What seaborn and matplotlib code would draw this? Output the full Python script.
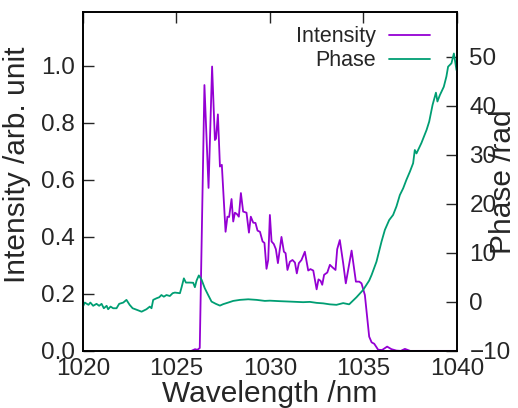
import pandas as pd
import matplotlib
matplotlib.use('Agg')
import matplotlib.pyplot as plt
import seaborn as sns

# Intensity spectrum
wl_int = [1025.8, 1026.0, 1026.1, 1026.15, 1026.25, 1026.5, 1026.72, 1026.91, 1027.06, 1027.12,
          1027.22, 1027.33, 1027.43, 1027.63, 1027.73, 1027.82, 1027.95, 1028.04, 1028.13, 1028.24,
          1028.34, 1028.45, 1028.57, 1028.75, 1028.88, 1028.98, 1029.11, 1029.23, 1029.34, 1029.47,
          1029.61, 1029.71, 1029.82, 1029.91, 1030.0, 1030.09, 1030.21, 1030.32, 1030.43, 1030.62,
          1030.75, 1030.84, 1030.94, 1031.07, 1031.21, 1031.34, 1031.44, 1031.55, 1031.69, 1031.87,
          1032.05, 1032.17, 1032.32, 1032.5, 1032.6, 1032.71, 1032.8, 1032.9, 1033.07, 1033.21,
          1033.35, 1033.51, 1033.6, 1033.74, 1033.92, 1034.06, 1034.28, 1034.37, 1034.6, 1034.78,
          1034.9, 1035.08, 1035.31, 1035.44, 1035.58, 1035.79, 1036.0, 1036.27, 1036.5, 1036.77,
          1037.0, 1037.22, 1037.5, 1038.0, 1039.0, 1040.0]
intensity = [0.0, 0.006, 0.004, 0.005, 0.01, 0.933, 0.572, 0.998, 0.74, 0.745,
             0.83, 0.647, 0.653, 0.418, 0.471, 0.47, 0.533, 0.454, 0.485, 0.48,
             0.471, 0.554, 0.489, 0.485, 0.415, 0.471, 0.45, 0.449, 0.422, 0.418,
             0.384, 0.379, 0.288, 0.319, 0.477, 0.384, 0.375, 0.357, 0.308, 0.40,
             0.348, 0.343, 0.284, 0.313, 0.319, 0.31, 0.272, 0.308, 0.319, 0.348,
             0.282, 0.287, 0.282, 0.216, 0.251, 0.246, 0.232, 0.267, 0.275, 0.302,
             0.293, 0.284, 0.357, 0.389, 0.308, 0.237, 0.319, 0.352, 0.243, 0.243,
             0.237, 0.196, 0.05, 0.03, 0.025, 0.004, 0.003, 0.015, 0.006, 0.001,
             0.0, 0.007, 0.0, 0.0, 0.0, 0.0]

# Spectral phase
wl_ph = [1020.0, 1020.1, 1020.3, 1020.4, 1020.55, 1020.73, 1020.87, 1021.0, 1021.12, 1021.27,
         1021.35, 1021.48, 1021.62, 1021.8, 1021.94, 1022.16, 1022.33, 1022.5, 1022.66, 1022.87,
         1023.14, 1023.4, 1023.58, 1023.67, 1023.76, 1023.94, 1024.08, 1024.2, 1024.33, 1024.47,
         1024.65, 1024.8, 1024.92, 1025.19, 1025.28, 1025.4, 1025.51, 1025.72, 1025.9, 1025.99,
         1026.08, 1026.2, 1026.35, 1026.52, 1026.7, 1026.88, 1027.11, 1027.33, 1027.5, 1027.77,
         1028.04, 1028.4, 1028.84, 1029.29, 1029.73, 1030.0, 1030.5, 1031.07, 1031.78, 1032.14,
         1032.5, 1032.85, 1033.2, 1033.56, 1033.92, 1034.24, 1034.63, 1034.99, 1035.31, 1035.44,
         1035.7, 1035.97, 1036.15, 1036.38, 1036.59, 1036.77, 1036.95, 1037.13, 1037.3, 1037.49,
         1037.66, 1037.75, 1037.84, 1038.1, 1038.38, 1038.52, 1038.7, 1038.88, 1038.96, 1039.09,
         1039.3, 1039.44, 1039.53, 1039.71, 1039.84, 1039.98]
phase = [-1.0, -0.14, -0.6, -0.14, -0.8, -0.4, -0.8, -0.4, -1.3, -0.8,
         -1.5, -0.96, -1.3, -1.3, -0.4, -0.14, 0.41, -0.6, -1.3, -1.6,
         -2.0, -1.5, -0.96, -1.3, 0.41, 0.74, 0.94, 1.4, 1.06, 1.4,
         1.2, 1.77, 1.9, 1.77, 3.0, 4.8, 3.94, 3.94, 3.9, 3.0,
         4.35, 5.4, 4.5, 2.78, 1.4, 0.06, -0.4, -0.76, -0.47, -0.14,
         0.2, 0.41, 0.53, 0.41, 0.2, 0.25, 0.15, 0.06, -0.06, 0.0,
         -0.2, -0.3, -0.5, -0.6, -0.25, -0.5, 0.94, 2.45, 4.35, 5.5,
         8.2, 12.3, 14.7, 16.7, 17.75, 19.5, 21.8, 23.2, 24.9, 26.6,
         28.3, 31.0, 30.3, 32.4, 35.1, 36.8, 40.2, 42.7, 40.9, 42.2,
         43.9, 46.0, 48.0, 48.7, 50.7, 47.3]

df_int = pd.DataFrame({'wl': wl_int, 'val': intensity})
df_ph = pd.DataFrame({'wl': wl_ph, 'val': phase})

sns.set_style('white')
plt.rcParams['font.family'] = ['Liberation Sans', 'DejaVu Sans']

fig, ax = plt.subplots(figsize=(5.18, 4.08), dpi=100)
fig.subplots_adjust(left=0.160, right=0.882, bottom=0.140, top=0.971)
ax2 = ax.twinx()

sns.lineplot(data=df_int, x='wl', y='val', ax=ax, color='#9400D3', lw=1.3,
             estimator=None, label='Intensity', legend=False)
sns.lineplot(data=df_ph, x='wl', y='val', ax=ax2, color='#009E73', lw=1.3,
             estimator=None, label='Phase', legend=False)

ax.set_xlim(1020, 1040)
ax.set_ylim(0, 1.19)
ax2.set_ylim(-10, 59.2)
ax.set_xticks([1020, 1025, 1030, 1035, 1040])
ax.set_yticks([0.0, 0.2, 0.4, 0.6, 0.8, 1.0])
ax.set_yticklabels(['0.0', '0.2', '0.4', '0.6', '0.8', '1.0'])
ax2.set_yticks([-10, 0, 10, 20, 30, 40, 50])

ax.set_xlabel('Wavelength /nm', fontsize=21.5, labelpad=0)
ax.set_ylabel('Intensity /arb. unit', fontsize=21.5)
ax2.set_ylabel('Phase /rad', fontsize=21.5)
ax.yaxis.set_label_coords(-0.14, 0.55)
ax2.yaxis.set_label_coords(1.085, 0.5)

ax.tick_params(axis='x', direction='in', length=8, width=1, top=True, labelsize=17.5, pad=5)
ax.tick_params(axis='y', direction='in', length=8, width=1, labelsize=17.5, pad=6)
ax2.tick_params(axis='y', direction='in', length=8, width=1, labelsize=17.5, pad=9)
for a in (ax, ax2):
    for s in a.spines.values():
        s.set_color('black')
        s.set_linewidth(1.2)

h1, l1 = ax.get_legend_handles_labels()
h2, l2 = ax2.get_legend_handles_labels()
ax2.legend(h1 + h2, l1 + l2, loc='upper right', bbox_to_anchor=(0.928, 0.958),
           frameon=False, markerfirst=False, fontsize=15.5, handlelength=1.9,
           handletextpad=0.6, labelspacing=0.15, borderpad=0, borderaxespad=0)

plt.savefig('out.png', dpi=100)
